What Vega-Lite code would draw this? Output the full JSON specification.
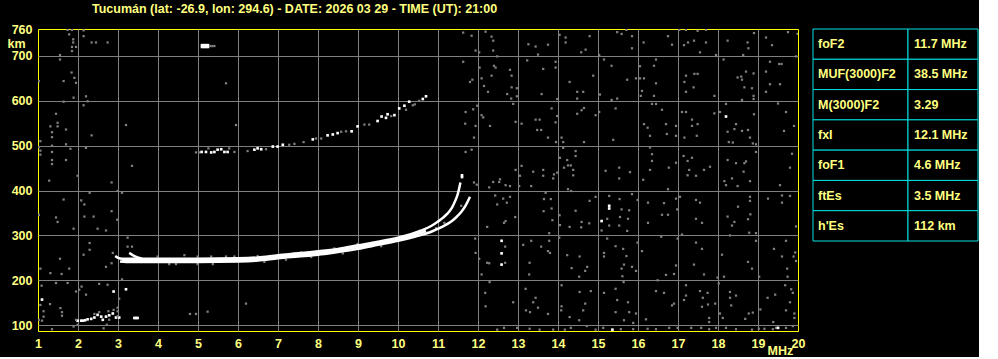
{
  "$schema": "https://vega.github.io/schema/vega-lite/v6.json",
  "background": "#000000",
  "padding": {"left": 6, "top": 2, "right": 0, "bottom": 0},
  "config": {"view": {"stroke": null}, "font": "Liberation Sans"},
  "bounds": "flush",
  "spacing": 15,
  "datasets": {
    "noise": [
      {"f":11.63,"h":752,"c":"g"},{"f":11.84,"h":745,"c":"g"},{"f":12.19,"h":754,"c":"g"},{"f":12.34,"h":743,"c":"g"},{"f":12.38,"h":734,"c":"g"},{"f":12.38,"h":712,"c":"g"},{"f":11.94,"h":712,"c":"g"},{"f":12.03,"h":708,"c":"g"},{"f":12.48,"h":699,"c":"g"},{"f":13.26,"h":726,"c":"g"},{"f":13.44,"h":721,"c":"g"},{"f":13.75,"h":725,"c":"g"},{"f":13.5,"h":703,"c":"g"},{"f":14.19,"h":741,"c":"g"},{"f":14.19,"h":730,"c":"g"},{"f":14.04,"h":747,"c":"g"},{"f":14.69,"h":714,"c":"g"},{"f":14.79,"h":744,"c":"g"},{"f":14.58,"h":708,"c":"g"},{"f":15.03,"h":702,"c":"g"},{"f":15.48,"h":753,"c":"g"},{"f":15.59,"h":749,"c":"g"},{"f":15.71,"h":758,"c":"g"},
      {"f":11.63,"h":687,"c":"g"},{"f":12.04,"h":674,"c":"g"},{"f":12.4,"h":678,"c":"g"},{"f":12.44,"h":674,"c":"g"},{"f":12.8,"h":669,"c":"g"},{"f":12.34,"h":656,"c":"g"},{"f":12.84,"h":656,"c":"g"},{"f":12.09,"h":650,"c":"g"},{"f":11.86,"h":647,"c":"g"},{"f":11.8,"h":642,"c":"g"},{"f":12.15,"h":633,"c":"g"},{"f":12.25,"h":620,"c":"g"},{"f":12.84,"h":630,"c":"g"},{"f":12.97,"h":628,"c":"g"},{"f":12.97,"h":610,"c":"g"},{"f":12.83,"h":605,"c":"g"},{"f":12.73,"h":615,"c":"g"},{"f":13.59,"h":615,"c":"g"},{"f":13.23,"h":690,"c":"g"},{"f":13.63,"h":671,"c":"g"},{"f":13.94,"h":687,"c":"g"},{"f":13.94,"h":674,"c":"g"},{"f":14.29,"h":642,"c":"g"},{"f":14.48,"h":620,"c":"g"},{"f":14.63,"h":620,"c":"g"},{"f":14.88,"h":656,"c":"g"},{"f":14.48,"h":605,"c":"g"},{"f":15.15,"h":692,"c":"g"},{"f":15.34,"h":678,"c":"g"},{"f":15.73,"h":647,"c":"g"},{"f":15.05,"h":614,"c":"g"},{"f":15.48,"h":605,"c":"g"},{"f":15.34,"h":602,"c":"g"},{"f":13.98,"h":604,"c":"g"},
      {"f":11.69,"h":575,"c":"g"},{"f":11.88,"h":581,"c":"g"},{"f":11.98,"h":589,"c":"g"},{"f":12.09,"h":568,"c":"g"},{"f":12.13,"h":563,"c":"g"},{"f":11.94,"h":544,"c":"g"},{"f":11.68,"h":549,"c":"g"},{"f":12.3,"h":544,"c":"g"},{"f":11.9,"h":518,"c":"g"},{"f":12.88,"h":593,"c":"g"},{"f":12.94,"h":553,"c":"g"},{"f":13.09,"h":549,"c":"g"},{"f":13.44,"h":558,"c":"g"},{"f":13.54,"h":558,"c":"g"},{"f":13.48,"h":535,"c":"g"},{"f":13.58,"h":535,"c":"g"},{"f":13.84,"h":583,"c":"g"},{"f":13.94,"h":552,"c":"g"},{"f":13.75,"h":518,"c":"g"},{"f":13.98,"h":566,"c":"g"},{"f":14.09,"h":518,"c":"g"},{"f":14.13,"h":508,"c":"g"},{"f":14.48,"h":571,"c":"g"},{"f":14.59,"h":579,"c":"g"},{"f":14.65,"h":584,"c":"g"},{"f":14.94,"h":568,"c":"g"},{"f":15.03,"h":575,"c":"g"},{"f":15.44,"h":583,"c":"g"},{"f":15.38,"h":513,"c":"g"},{"f":14.65,"h":508,"c":"g"},{"f":13.95,"h":508,"c":"g"},
      {"f":11.69,"h":486,"c":"g"},{"f":11.84,"h":491,"c":"g"},{"f":12.94,"h":446,"c":"g"},{"f":13.09,"h":455,"c":"g"},{"f":13.38,"h":442,"c":"g"},{"f":13.63,"h":446,"c":"g"},{"f":13.63,"h":433,"c":"g"},{"f":13.9,"h":436,"c":"g"},{"f":13.98,"h":440,"c":"g"},{"f":14.05,"h":473,"c":"g"},{"f":14.13,"h":495,"c":"g"},{"f":14.23,"h":468,"c":"g"},{"f":14.25,"h":456,"c":"g"},{"f":14.15,"h":451,"c":"g"},{"f":14.32,"h":456,"c":"g"},{"f":14.38,"h":446,"c":"g"},{"f":14.44,"h":488,"c":"g"},{"f":14.44,"h":477,"c":"g"},{"f":14.38,"h":434,"c":"g"},{"f":13.88,"h":427,"c":"g"},{"f":15.19,"h":444,"c":"g"},{"f":15.53,"h":451,"c":"g"},{"f":15.8,"h":441,"c":"g"},{"f":12.55,"h":425,"c":"g"},{"f":12.38,"h":419,"c":"g"},{"f":12.53,"h":419,"c":"g"},{"f":12.69,"h":412,"c":"g"},{"f":12.8,"h":410,"c":"g"},{"f":13.03,"h":410,"c":"g"},{"f":13.33,"h":410,"c":"g"},{"f":12.28,"h":407,"c":"g"},{"f":11.97,"h":413,"c":"g"},{"f":11.9,"h":418,"c":"g"},{"f":13.05,"h":433,"c":"g"},{"f":14.25,"h":403,"c":"g"},{"f":14.33,"h":399,"c":"g"},{"f":15.53,"h":427,"c":"g"},
      {"f":12.43,"h":389,"c":"g"},{"f":12.48,"h":369,"c":"g"},{"f":12.72,"h":373,"c":"g"},{"f":12.8,"h":386,"c":"g"},{"f":12.63,"h":382,"c":"g"},{"f":13.65,"h":381,"c":"g"},{"f":13.69,"h":395,"c":"g"},{"f":13.82,"h":381,"c":"g"},{"f":13.84,"h":360,"c":"g"},{"f":13.64,"h":354,"c":"g"},{"f":13.86,"h":334,"c":"g"},{"f":14.04,"h":345,"c":"g"},{"f":14.05,"h":323,"c":"g"},{"f":14.29,"h":319,"c":"g"},{"f":14.44,"h":355,"c":"g"},{"f":14.59,"h":330,"c":"g"},{"f":14.78,"h":327,"c":"g"},{"f":14.58,"h":318,"c":"g"},{"f":14.79,"h":377,"c":"g"},{"f":14.94,"h":386,"c":"g"},{"f":15.28,"h":388,"c":"g"},{"f":15.59,"h":358,"c":"g"},{"f":15.54,"h":381,"c":"g"},{"f":15.78,"h":356,"c":"g"},{"f":15.23,"h":337,"c":"g"},{"f":15.28,"h":322,"c":"g"},{"f":15.55,"h":341,"c":"g"},{"f":15.53,"h":322,"c":"g"},{"f":15.73,"h":310,"c":"g"},{"f":15.09,"h":311,"c":"g"},{"f":12.65,"h":328,"c":"g"},{"f":12.69,"h":332,"c":"g"},{"f":12.23,"h":319,"c":"g"},{"f":12.93,"h":341,"c":"g"},
      {"f":11.93,"h":293,"c":"g"},{"f":11.94,"h":261,"c":"g"},{"f":12.03,"h":248,"c":"g"},{"f":12.23,"h":239,"c":"g"},{"f":12.28,"h":238,"c":"g"},{"f":12.09,"h":213,"c":"g"},{"f":12.68,"h":275,"c":"g"},{"f":12.68,"h":239,"c":"g"},{"f":13.13,"h":279,"c":"g"},{"f":13.33,"h":288,"c":"g"},{"f":13.58,"h":275,"c":"g"},{"f":13.78,"h":305,"c":"g"},{"f":13.78,"h":288,"c":"g"},{"f":13.8,"h":261,"c":"g"},{"f":13.75,"h":265,"c":"g"},{"f":13.29,"h":239,"c":"g"},{"f":13.28,"h":213,"c":"g"},{"f":14.03,"h":295,"c":"g"},{"f":14.23,"h":256,"c":"g"},{"f":14.54,"h":253,"c":"g"},{"f":14.73,"h":230,"c":"g"},{"f":14.68,"h":221,"c":"g"},{"f":14.34,"h":227,"c":"g"},{"f":14.53,"h":208,"c":"g"},{"f":15.15,"h":261,"c":"g"},{"f":15.15,"h":253,"c":"g"},{"f":15.23,"h":293,"c":"g"},{"f":15.44,"h":276,"c":"g"},{"f":15.63,"h":270,"c":"g"},{"f":15.65,"h":235,"c":"g"},{"f":15.59,"h":226,"c":"g"},{"f":15.61,"h":209,"c":"g"},{"f":15.71,"h":254,"c":"g"},
      {"f":12.29,"h":196,"c":"g"},{"f":12.18,"h":172,"c":"g"},{"f":12.19,"h":142,"c":"g"},{"f":12.88,"h":151,"c":"g"},{"f":13.19,"h":181,"c":"g"},{"f":13.38,"h":151,"c":"g"},{"f":13.44,"h":161,"c":"g"},{"f":13.2,"h":133,"c":"g"},{"f":13.3,"h":129,"c":"g"},{"f":13.5,"h":139,"c":"g"},{"f":13.75,"h":125,"c":"g"},{"f":14.09,"h":189,"c":"g"},{"f":14.09,"h":142,"c":"g"},{"f":14.08,"h":133,"c":"g"},{"f":14.29,"h":118,"c":"g"},{"f":14.54,"h":174,"c":"g"},{"f":14.82,"h":176,"c":"g"},{"f":14.68,"h":148,"c":"g"},{"f":14.63,"h":133,"c":"g"},{"f":14.53,"h":111,"c":"g"},{"f":15.15,"h":172,"c":"g"},{"f":15.44,"h":181,"c":"g"},{"f":15.48,"h":156,"c":"g"},{"f":15.64,"h":196,"c":"g"},{"f":15.75,"h":151,"c":"g"},{"f":15.44,"h":129,"c":"g"},{"f":15.78,"h":129,"c":"g"},{"f":15.65,"h":111,"c":"g"},
      {"f":12.48,"h":90,"c":"g"},{"f":12.65,"h":94,"c":"g"},{"f":12.98,"h":94,"c":"g"},{"f":13.29,"h":92,"c":"g"},{"f":13.54,"h":90,"c":"g"},{"f":13.88,"h":90,"c":"g"},{"f":14.17,"h":90,"c":"g"},{"f":14.32,"h":94,"c":"g"},{"f":14.72,"h":98,"c":"g"},{"f":14.94,"h":90,"c":"g"},{"f":15.13,"h":94,"c":"g"},{"f":15.57,"h":91,"c":"g"},
      {"f":15.36,"h":90,"c":"w"},{"f":12.59,"h":288,"c":"w"},{"f":12.59,"h":260,"c":"w"},{"f":12.59,"h":235,"c":"w"},{"f":15.28,"h":366,"c":"w"},{"f":15.28,"h":360,"c":"w"},{"f":15.09,"h":332,"c":"w"},{"f":11.6,"h":430,"c":"w"},{"f":11.6,"h":434,"c":"w"},
      {"f":15.85,"h":744,"c":"g"},{"f":15.85,"h":717,"c":"g"},{"f":16.14,"h":730,"c":"g"},{"f":16.75,"h":744,"c":"g"},{"f":16.85,"h":725,"c":"g"},{"f":17.03,"h":758,"c":"g"},{"f":17.2,"h":758,"c":"g"},{"f":17.15,"h":724,"c":"g"},{"f":17.25,"h":730,"c":"g"},{"f":17.4,"h":734,"c":"g"},{"f":17.49,"h":756,"c":"g"},{"f":17.7,"h":758,"c":"g"},{"f":17.7,"h":730,"c":"g"},{"f":17.55,"h":708,"c":"g"},{"f":17.95,"h":702,"c":"g"},{"f":18.24,"h":734,"c":"g"},{"f":18.63,"h":702,"c":"g"},{"f":18.74,"h":730,"c":"g"},{"f":18.76,"h":717,"c":"g"},{"f":18.9,"h":751,"c":"g"},{"f":19.2,"h":741,"c":"g"},{"f":19.35,"h":724,"c":"g"},{"f":19.75,"h":753,"c":"g"},{"f":19.99,"h":749,"c":"g"},
      {"f":16.45,"h":692,"c":"g"},{"f":16.4,"h":678,"c":"g"},{"f":16.05,"h":677,"c":"g"},{"f":16.15,"h":650,"c":"g"},{"f":16.05,"h":650,"c":"g"},{"f":15.95,"h":650,"c":"g"},{"f":16.45,"h":639,"c":"g"},{"f":16.1,"h":622,"c":"g"},{"f":16.07,"h":611,"c":"g"},{"f":16.4,"h":611,"c":"g"},{"f":17.2,"h":656,"c":"g"},{"f":17.41,"h":660,"c":"g"},{"f":17.49,"h":660,"c":"g"},{"f":17.16,"h":642,"c":"g"},{"f":17.39,"h":630,"c":"g"},{"f":17.2,"h":620,"c":"g"},{"f":17.91,"h":611,"c":"g"},{"f":18.14,"h":692,"c":"g"},{"f":18.49,"h":652,"c":"g"},{"f":18.58,"h":654,"c":"g"},{"f":18.6,"h":647,"c":"g"},{"f":18.7,"h":665,"c":"g"},{"f":18.89,"h":661,"c":"g"},{"f":18.66,"h":630,"c":"g"},{"f":18.85,"h":628,"c":"g"},{"f":18.89,"h":611,"c":"g"},{"f":18.89,"h":604,"c":"g"},{"f":18.6,"h":602,"c":"g"},{"f":19.2,"h":665,"c":"g"},{"f":19.3,"h":687,"c":"g"},{"f":19.53,"h":682,"c":"g"},{"f":19.59,"h":682,"c":"g"},{"f":19.3,"h":637,"c":"g"},{"f":19.55,"h":637,"c":"g"},{"f":19.2,"h":620,"c":"g"},{"f":19.95,"h":699,"c":"g"},
      {"f":16.35,"h":593,"c":"g"},{"f":16.45,"h":593,"c":"g"},{"f":16.6,"h":580,"c":"g"},{"f":16.15,"h":548,"c":"g"},{"f":16.24,"h":540,"c":"g"},{"f":16.3,"h":522,"c":"g"},{"f":16.7,"h":548,"c":"g"},{"f":16.72,"h":526,"c":"g"},{"f":16.95,"h":544,"c":"g"},{"f":16.95,"h":522,"c":"g"},{"f":17.16,"h":518,"c":"g"},{"f":17.1,"h":575,"c":"g"},{"f":17.2,"h":575,"c":"g"},{"f":17.35,"h":558,"c":"g"},{"f":17.35,"h":544,"c":"g"},{"f":17.49,"h":548,"c":"g"},{"f":17.47,"h":522,"c":"g"},{"f":17.91,"h":572,"c":"g"},{"f":18.05,"h":575,"c":"g"},{"f":18.2,"h":593,"c":"g"},{"f":18.24,"h":531,"c":"g"},{"f":18.27,"h":508,"c":"g"},{"f":18.37,"h":507,"c":"g"},{"f":18.41,"h":537,"c":"g"},{"f":18.45,"h":548,"c":"g"},{"f":18.6,"h":533,"c":"g"},{"f":18.75,"h":535,"c":"g"},{"f":18.8,"h":518,"c":"g"},{"f":18.87,"h":505,"c":"g"},{"f":18.9,"h":570,"c":"g"},{"f":19.5,"h":594,"c":"g"},{"f":19.7,"h":575,"c":"g"},{"f":19.9,"h":544,"c":"g"},{"f":19.65,"h":533,"c":"g"},{"f":18.95,"h":503,"c":"g"},{"f":18.2,"h":565,"c":"w"},
      {"f":16.3,"h":496,"c":"g"},{"f":16.35,"h":481,"c":"g"},{"f":16.35,"h":466,"c":"g"},{"f":16.3,"h":446,"c":"g"},{"f":16.77,"h":451,"c":"g"},{"f":16.95,"h":462,"c":"g"},{"f":17.14,"h":477,"c":"g"},{"f":17.24,"h":466,"c":"g"},{"f":17.35,"h":473,"c":"g"},{"f":17.28,"h":446,"c":"g"},{"f":17.24,"h":434,"c":"g"},{"f":17.45,"h":433,"c":"g"},{"f":17.65,"h":446,"c":"g"},{"f":17.8,"h":453,"c":"g"},{"f":18.24,"h":468,"c":"g"},{"f":18.45,"h":461,"c":"g"},{"f":18.66,"h":461,"c":"g"},{"f":18.7,"h":465,"c":"g"},{"f":18.64,"h":442,"c":"g"},{"f":18.8,"h":421,"c":"g"},{"f":18.35,"h":427,"c":"g"},{"f":18.16,"h":421,"c":"g"},{"f":18.2,"h":412,"c":"g"},{"f":18.49,"h":410,"c":"g"},{"f":18.95,"h":486,"c":"g"},{"f":19.85,"h":482,"c":"g"},{"f":19.8,"h":451,"c":"g"},{"f":19.55,"h":412,"c":"g"},{"f":16.13,"h":424,"c":"g"},
      {"f":15.85,"h":392,"c":"g"},{"f":15.99,"h":379,"c":"g"},{"f":16.75,"h":403,"c":"g"},{"f":16.25,"h":373,"c":"g"},{"f":16.65,"h":372,"c":"g"},{"f":16.6,"h":346,"c":"g"},{"f":16.75,"h":346,"c":"g"},{"f":16.25,"h":328,"c":"g"},{"f":15.75,"h":337,"c":"g"},{"f":16.98,"h":358,"c":"g"},{"f":16.95,"h":382,"c":"g"},{"f":17.05,"h":386,"c":"g"},{"f":17.45,"h":379,"c":"g"},{"f":17.55,"h":373,"c":"g"},{"f":17.45,"h":337,"c":"g"},{"f":17.6,"h":328,"c":"g"},{"f":18.24,"h":342,"c":"g"},{"f":18.35,"h":322,"c":"g"},{"f":18.41,"h":330,"c":"g"},{"f":18.5,"h":364,"c":"g"},{"f":18.8,"h":386,"c":"g"},{"f":18.8,"h":377,"c":"g"},{"f":18.81,"h":347,"c":"g"},{"f":18.75,"h":336,"c":"g"},{"f":18.78,"h":306,"c":"g"},{"f":19.25,"h":382,"c":"g"},{"f":19.6,"h":389,"c":"g"},{"f":19.8,"h":388,"c":"g"},{"f":19.6,"h":373,"c":"g"},{"f":19.95,"h":320,"c":"g"},{"f":18.95,"h":305,"c":"g"},{"f":18.3,"h":300,"c":"g"},
      {"f":17.1,"h":302,"c":"g"},{"f":16.99,"h":293,"c":"g"},{"f":16.1,"h":265,"c":"g"},{"f":15.99,"h":284,"c":"g"},{"f":16.58,"h":297,"c":"g"},{"f":17.45,"h":284,"c":"g"},{"f":17.6,"h":270,"c":"g"},{"f":17.4,"h":235,"c":"g"},{"f":16.95,"h":233,"c":"g"},{"f":16.7,"h":212,"c":"g"},{"f":16.9,"h":214,"c":"g"},{"f":17.65,"h":213,"c":"g"},{"f":17.99,"h":206,"c":"g"},{"f":18.02,"h":193,"c":"g"},{"f":18.1,"h":257,"c":"g"},{"f":18.15,"h":208,"c":"g"},{"f":18.75,"h":241,"c":"g"},{"f":18.85,"h":226,"c":"g"},{"f":18.95,"h":288,"c":"g"},{"f":19.03,"h":208,"c":"g"},{"f":19.4,"h":270,"c":"g"},{"f":19.6,"h":253,"c":"g"},{"f":19.7,"h":288,"c":"g"},{"f":19.89,"h":253,"c":"g"},{"f":19.93,"h":262,"c":"g"},{"f":19.95,"h":243,"c":"g"},{"f":19.73,"h":226,"c":"g"},{"f":19.74,"h":208,"c":"g"},{"f":15.85,"h":230,"c":"g"},{"f":15.95,"h":221,"c":"g"},
      {"f":16.49,"h":200,"c":"g"},{"f":16.45,"h":176,"c":"g"},{"f":16.65,"h":172,"c":"g"},{"f":17.2,"h":189,"c":"g"},{"f":17.2,"h":166,"c":"g"},{"f":17.15,"h":156,"c":"g"},{"f":17.55,"h":176,"c":"g"},{"f":17.62,"h":161,"c":"g"},{"f":17.74,"h":172,"c":"g"},{"f":17.75,"h":146,"c":"g"},{"f":17.6,"h":141,"c":"g"},{"f":17.78,"h":116,"c":"g"},{"f":17.78,"h":107,"c":"g"},{"f":17.93,"h":148,"c":"g"},{"f":18.05,"h":126,"c":"g"},{"f":18.12,"h":116,"c":"g"},{"f":18.3,"h":174,"c":"g"},{"f":18.3,"h":161,"c":"g"},{"f":18.33,"h":144,"c":"g"},{"f":18.45,"h":166,"c":"g"},{"f":18.68,"h":114,"c":"g"},{"f":18.77,"h":126,"c":"g"},{"f":18.87,"h":128,"c":"g"},{"f":19.06,"h":135,"c":"g"},{"f":19.24,"h":161,"c":"g"},{"f":19.43,"h":168,"c":"g"},{"f":19.68,"h":189,"c":"g"},{"f":19.83,"h":180,"c":"g"},{"f":19.8,"h":151,"c":"g"},{"f":19.87,"h":172,"c":"g"},{"f":19.91,"h":126,"c":"g"},{"f":19.91,"h":116,"c":"g"},{"f":19.7,"h":133,"c":"g"},{"f":19.38,"h":107,"c":"g"},{"f":15.95,"h":126,"c":"g"},{"f":16.2,"h":113,"c":"g"},{"f":16.85,"h":144,"c":"g"},{"f":16.9,"h":148,"c":"g"},
      {"f":15.88,"h":105,"c":"g"},{"f":15.88,"h":91,"c":"g"},{"f":16.24,"h":92,"c":"g"},{"f":16.45,"h":91,"c":"g"},{"f":16.78,"h":94,"c":"g"},{"f":16.99,"h":94,"c":"g"},{"f":17.33,"h":94,"c":"g"},{"f":17.58,"h":94,"c":"g"},{"f":17.78,"h":91,"c":"g"},{"f":17.95,"h":94,"c":"g"},{"f":18.2,"h":94,"c":"g"},{"f":18.45,"h":91,"c":"g"},{"f":18.85,"h":90,"c":"g"},{"f":19.02,"h":92,"c":"g"},{"f":19.16,"h":92,"c":"g"},{"f":19.37,"h":91,"c":"g"},{"f":19.45,"h":94,"c":"g"},{"f":19.7,"h":94,"c":"g"},{"f":19.87,"h":98,"c":"g"},{"f":19.5,"h":94,"c":"w"},
      {"f":1.74,"h":758,"c":"g"},{"f":1.85,"h":758,"c":"g"},{"f":1.78,"h":748,"c":"g"},{"f":1.88,"h":737,"c":"g"},{"f":1.88,"h":730,"c":"g"},{"f":1.85,"h":720,"c":"g"},{"f":1.85,"h":711,"c":"g"},{"f":1.95,"h":720,"c":"g"},{"f":2.14,"h":757,"c":"g"},{"f":2.14,"h":744,"c":"g"},{"f":2.34,"h":730,"c":"g"},{"f":2.45,"h":730,"c":"g"},{"f":2.74,"h":730,"c":"g"},{"f":1.55,"h":702,"c":"g"},{"f":1.55,"h":692,"c":"g"},{"f":1.84,"h":663,"c":"g"},{"f":1.91,"h":651,"c":"g"},{"f":1.64,"h":644,"c":"g"},{"f":1.95,"h":640,"c":"g"},{"f":1.89,"h":607,"c":"g"},{"f":2.14,"h":590,"c":"g"},{"f":1.64,"h":598,"c":"g"},{"f":2.2,"h":610,"c":"g"},{"f":2.24,"h":599,"c":"g"},{"f":1.02,"h":644,"c":"g"},
      {"f":1.45,"h":571,"c":"g"},{"f":1.31,"h":543,"c":"g"},{"f":1.49,"h":551,"c":"g"},{"f":1.49,"h":543,"c":"g"},{"f":1.35,"h":530,"c":"g"},{"f":1.35,"h":519,"c":"g"},{"f":1.7,"h":536,"c":"g"},{"f":2.34,"h":523,"c":"g"},{"f":1.06,"h":510,"c":"g"},{"f":1.06,"h":489,"c":"g"},{"f":1.06,"h":480,"c":"g"},{"f":1.02,"h":497,"c":"g"},{"f":1.35,"h":500,"c":"g"},{"f":1.35,"h":486,"c":"g"},{"f":1.7,"h":503,"c":"g"},{"f":1.81,"h":493,"c":"g"},{"f":2.2,"h":495,"c":"g"},{"f":1.35,"h":468,"c":"g"},{"f":1.35,"h":459,"c":"g"},{"f":1.7,"h":468,"c":"g"},{"f":1.28,"h":422,"c":"g"},{"f":2.84,"h":418,"c":"g"},{"f":1.99,"h":433,"c":"g"},
      {"f":2.29,"h":395,"c":"g"},{"f":2.08,"h":378,"c":"g"},{"f":2.16,"h":369,"c":"g"},{"f":1.64,"h":380,"c":"g"},{"f":1.45,"h":340,"c":"g"},{"f":1.49,"h":330,"c":"g"},{"f":1.89,"h":315,"c":"g"},{"f":2.16,"h":342,"c":"g"},{"f":2.39,"h":342,"c":"g"},{"f":2.49,"h":315,"c":"g"},{"f":2.7,"h":311,"c":"g"},{"f":2.84,"h":354,"c":"g"},{"f":2.98,"h":335,"c":"g"},{"f":1.02,"h":346,"c":"g"},
      {"f":2.29,"h":283,"c":"g"},{"f":2.29,"h":268,"c":"g"},{"f":2.14,"h":257,"c":"g"},{"f":1.55,"h":248,"c":"g"},{"f":1.78,"h":226,"c":"g"},{"f":1.59,"h":214,"c":"g"},{"f":1.31,"h":216,"c":"g"},{"f":1.06,"h":226,"c":"g"},{"f":2.84,"h":238,"c":"g"},{"f":2.7,"h":230,"c":"g"},{"f":2.87,"h":261,"c":"g"},{"f":2.74,"h":190,"c":"g"},{"f":2.53,"h":192,"c":"g"},{"f":2.09,"h":186,"c":"g"},{"f":2.2,"h":168,"c":"g"},{"f":1.95,"h":175,"c":"g"},{"f":2.03,"h":179,"c":"g"},{"f":1.09,"h":188,"c":"g"},{"f":1.45,"h":194,"c":"g"},{"f":1.74,"h":194,"c":"g"},
      {"f":2.89,"h":175,"c":"w"},{"f":1.1,"h":157,"c":"w"},{"f":1.06,"h":145,"c":"g"},{"f":1.3,"h":147,"c":"g"},{"f":1.56,"h":138,"c":"g"},{"f":1.6,"h":129,"c":"g"},{"f":1.6,"h":121,"c":"g"},{"f":1.14,"h":131,"c":"g"},{"f":1.02,"h":112,"c":"g"},{"f":1.1,"h":110,"c":"g"},{"f":1.14,"h":119,"c":"g"},{"f":1.35,"h":91,"c":"g"},{"f":1.89,"h":97,"c":"g"},{"f":1.99,"h":101,"c":"g"},{"f":2.64,"h":93,"c":"g"},{"f":2.72,"h":101,"c":"g"},{"f":2.78,"h":112,"c":"g"},{"f":2.99,"h":131,"c":"g"},
      {"f":1.99,"h":110,"c":"w"},{"f":2.08,"h":110,"c":"w"},{"f":2.18,"h":111,"c":"w"},{"f":2.24,"h":113,"c":"w"},{"f":2.33,"h":114,"c":"w"},{"f":2.41,"h":117,"c":"w"},{"f":2.49,"h":123,"c":"w"},{"f":2.58,"h":119,"c":"w"},{"f":2.62,"h":112,"c":"w"},{"f":2.7,"h":119,"c":"w"},{"f":2.78,"h":122,"c":"w"},{"f":2.87,"h":126,"c":"w"},{"f":2.95,"h":117,"c":"w"},{"f":3.03,"h":117,"c":"w"},{"f":3.41,"h":116,"c":"w"},{"f":3.49,"h":116,"c":"w"},{"f":3.45,"h":116,"c":"w"},{"f":2.12,"h":110,"c":"w"},
      {"f":1.95,"h":112,"c":"g"},{"f":2.41,"h":125,"c":"g"},{"f":2.53,"h":129,"c":"g"},{"f":2.76,"h":131,"c":"g"},{"f":2.89,"h":134,"c":"g"},
      {"f":5.7,"h":639,"c":"g"},{"f":3.2,"h":546,"c":"g"},{"f":5.95,"h":546,"c":"g"},{"f":3.35,"h":455,"c":"g"},{"f":2.99,"h":399,"c":"g"},{"f":3.1,"h":395,"c":"g"},{"f":3.24,"h":295,"c":"g"},{"f":3.24,"h":275,"c":"g"},{"f":3.35,"h":275,"c":"g"},{"f":3.1,"h":202,"c":"g"},{"f":2.99,"h":139,"c":"g"},{"f":3.03,"h":159,"c":"g"},{"f":2.99,"h":120,"c":"g"},{"f":6.2,"h":148,"c":"g"},{"f":4.8,"h":125,"c":"g"},{"f":4.95,"h":125,"c":"g"},{"f":5.24,"h":130,"c":"g"},{"f":3.2,"h":180,"c":"w"},
      {"f":5.1,"h":720,"c":"w"},{"f":5.15,"h":720,"c":"w"},{"f":5.2,"h":720,"c":"w"},{"f":5.25,"h":720,"c":"w"},{"f":5.1,"h":724,"c":"w"},{"f":5.15,"h":724,"c":"w"},{"f":5.2,"h":724,"c":"w"},{"f":5.25,"h":724,"c":"w"},{"f":5.31,"h":722,"c":"g"},{"f":5.36,"h":722,"c":"g"},{"f":5.41,"h":722,"c":"g"},
      {"f":4.95,"h":485,"c":"g"},{"f":5.03,"h":485,"c":"g"},{"f":5.09,"h":486,"c":"w"},{"f":5.2,"h":486,"c":"w"},{"f":5.26,"h":494,"c":"g"},{"f":5.33,"h":485,"c":"w"},{"f":5.41,"h":486,"c":"w"},{"f":5.49,"h":491,"c":"w"},{"f":5.58,"h":492,"c":"w"},{"f":5.66,"h":486,"c":"w"},{"f":5.74,"h":486,"c":"w"},{"f":5.78,"h":494,"c":"g"},{"f":5.91,"h":486,"c":"g"},{"f":6.24,"h":488,"c":"g"},{"f":6.41,"h":491,"c":"w"},{"f":6.49,"h":494,"c":"w"},{"f":6.58,"h":492,"c":"w"},{"f":6.7,"h":492,"c":"g"},{"f":6.87,"h":498,"c":"w"},{"f":6.99,"h":498,"c":"w"},{"f":7.12,"h":502,"c":"w"},{"f":7.28,"h":502,"c":"g"},{"f":7.41,"h":504,"c":"g"},{"f":7.64,"h":508,"c":"g"},{"f":7.87,"h":514,"c":"w"},{"f":7.95,"h":516,"c":"g"},{"f":8.08,"h":516,"c":"g"},{"f":8.24,"h":523,"c":"w"},{"f":8.37,"h":525,"c":"w"},{"f":8.49,"h":528,"c":"w"},{"f":8.58,"h":531,"c":"g"},{"f":8.7,"h":532,"c":"g"},{"f":8.84,"h":532,"c":"w"},{"f":8.99,"h":543,"c":"w"},{"f":9.16,"h":547,"c":"g"},{"f":9.28,"h":547,"c":"g"},{"f":9.49,"h":555,"c":"w"},{"f":9.59,"h":565,"c":"w"},{"f":9.7,"h":562,"c":"w"},{"f":9.74,"h":570,"c":"w"},{"f":9.83,"h":566,"c":"g"},{"f":9.91,"h":568,"c":"w"},{"f":10.03,"h":583,"c":"w"},{"f":10.16,"h":589,"c":"w"},{"f":10.2,"h":580,"c":"g"},{"f":10.28,"h":598,"c":"w"},{"f":10.37,"h":590,"c":"g"},{"f":10.42,"h":592,"c":"g"},{"f":10.53,"h":600,"c":"g"},{"f":10.62,"h":604,"c":"w"},{"f":10.7,"h":610,"c":"w"},
      {"f":3.99,"h":253,"c":"g"},{"f":4.66,"h":256,"c":"g"},{"f":4.99,"h":253,"c":"g"},{"f":5.33,"h":253,"c":"g"},{"f":5.7,"h":253,"c":"g"},{"f":5.91,"h":253,"c":"g"},{"f":6.49,"h":254,"c":"g"},{"f":4.28,"h":236,"c":"g"},{"f":4.45,"h":236,"c":"g"},{"f":4.99,"h":236,"c":"g"},{"f":5.37,"h":236,"c":"g"},{"f":6.66,"h":241,"c":"g"},{"f":7.2,"h":246,"c":"g"},{"f":7.58,"h":262,"c":"g"},{"f":7.83,"h":252,"c":"g"},{"f":8.41,"h":271,"c":"g"},{"f":8.62,"h":260,"c":"g"},{"f":8.99,"h":281,"c":"g"},{"f":9.58,"h":276,"c":"g"},{"f":10.08,"h":293,"c":"g"},{"f":10.45,"h":301,"c":"g"},{"f":10.95,"h":316,"c":"g"},{"f":11.16,"h":328,"c":"g"},{"f":11.58,"h":366,"c":"g"}
    ],
    "traces": [
      {"f":2.93,"h":254,"trace":"o"},{"f":3.0,"h":250,"trace":"o"},{"f":3.1,"h":248,"trace":"o"},{"f":3.5,"h":248,"trace":"o"},{"f":4.0,"h":248,"trace":"o"},{"f":5.0,"h":248,"trace":"o"},{"f":6.0,"h":249,"trace":"o"},{"f":6.5,"h":251,"trace":"o"},{"f":7.0,"h":256,"trace":"o"},{"f":7.5,"h":260,"trace":"o"},{"f":8.0,"h":264.5,"trace":"o"},{"f":8.5,"h":270,"trace":"o"},{"f":9.0,"h":278,"trace":"o"},{"f":9.5,"h":286,"trace":"o"},{"f":10.0,"h":295,"trace":"o"},{"f":10.3,"h":302,"trace":"o"},{"f":10.58,"h":311,"trace":"o"},{"f":10.83,"h":321,"trace":"o"},{"f":11.0,"h":331,"trace":"o"},{"f":11.12,"h":339,"trace":"o"},{"f":11.24,"h":349,"trace":"o"},{"f":11.35,"h":362,"trace":"o"},{"f":11.43,"h":377,"trace":"o"},{"f":11.49,"h":391,"trace":"o"},{"f":11.53,"h":405,"trace":"o"},{"f":11.56,"h":418,"trace":"o"},
      {"f":3.05,"h":242,"trace":"x"},{"f":3.2,"h":241,"trace":"x"},{"f":4.0,"h":241,"trace":"x"},{"f":5.0,"h":241,"trace":"x"},{"f":6.0,"h":242,"trace":"x"},{"f":6.5,"h":244,"trace":"x"},{"f":7.0,"h":249,"trace":"x"},{"f":7.5,"h":253,"trace":"x"},{"f":8.0,"h":257,"trace":"x"},{"f":8.5,"h":263,"trace":"x"},{"f":9.0,"h":270,"trace":"x"},{"f":9.5,"h":279,"trace":"x"},{"f":10.0,"h":288,"trace":"x"},{"f":10.5,"h":299,"trace":"x"},{"f":10.8,"h":307,"trace":"x"},{"f":11.0,"h":315,"trace":"x"},{"f":11.16,"h":322,"trace":"x"},{"f":11.33,"h":331,"trace":"x"},{"f":11.45,"h":340,"trace":"x"},{"f":11.58,"h":352,"trace":"x"},{"f":11.7,"h":368,"trace":"x"},{"f":11.8,"h":386,"trace":"x"},
      {"f":3.1,"h":244.5,"trace":"m"},{"f":4.0,"h":244.5,"trace":"m"},{"f":5.0,"h":244.5,"trace":"m"},{"f":6.0,"h":245.5,"trace":"m"},{"f":6.5,"h":247.5,"trace":"m"},{"f":7.0,"h":252.5,"trace":"m"},{"f":7.5,"h":256.5,"trace":"m"},{"f":8.0,"h":260.8,"trace":"m"},{"f":8.5,"h":266.5,"trace":"m"},{"f":9.0,"h":274,"trace":"m"},{"f":9.5,"h":282.5,"trace":"m"},{"f":10.0,"h":291.5,"trace":"m"},{"f":10.5,"h":303.5,"trace":"m"},{"f":10.7,"h":310,"trace":"m"},
      {"f":3.28,"h":261,"trace":"hook"},{"f":3.41,"h":254,"trace":"hook"},{"f":3.6,"h":248,"trace":"hook"}
    ],
    "table": [
      {"row":1,"param":"foF2","value":"11.7 MHz"},
      {"row":2,"param":"MUF(3000)F2","value":"38.5 MHz"},
      {"row":3,"param":"M(3000)F2","value":"3.29"},
      {"row":4,"param":"fxI","value":"12.1 MHz"},
      {"row":5,"param":"foF1","value":"4.6 MHz"},
      {"row":6,"param":"ftEs","value":"3.5 MHz"},
      {"row":7,"param":"h'Es","value":"112 km"}
    ]
  },
  "hconcat": [
    {
      "width": 760,
      "height": 302,
      "view": {"stroke": "#ffff00", "strokeWidth": 1, "fill": "#000000"},
      "title": {"text": "Tucumán (lat: -26.9, lon: 294.6) - DATE: 2026 03 29 - TIME (UT): 21:00", "anchor": "start", "frame": "group", "dx": 54, "offset": 8, "color": "#ffff80", "font": "Liberation Sans", "fontSize": 12.5, "fontWeight": "bold"},
      "encoding": {
        "x": {"field": "f", "type": "quantitative", "scale": {"domain": [1, 20], "nice": false, "zero": false},
          "axis": {"values": [1,2,3,4,5,6,7,8,9,10,11,12,13,14,15,16,17,18,19,20], "format": "d", "grid": true, "gridColor": "#808080", "gridWidth": 1,
            "gridOpacity": {"condition": {"test": "datum.value === 1 || datum.value === 20", "value": 0}, "value": 1},
            "domain": false, "ticks": false, "labelColor": "#ffff80", "labelFont": "Liberation Sans", "labelFontSize": 12.5, "labelFontWeight": "bold", "labelPadding": 6, "labelFlush": false, "labelOverlap": false, "labelBound": false,
            "title": "MHz", "titleX": 729, "titleY": 23, "titleAlign": "left", "titleBaseline": "alphabetic", "titleColor": "#ffff80", "titleFont": "Liberation Sans", "titleFontSize": 12.5, "titleFontWeight": "bold"}},
        "y": {"field": "h", "type": "quantitative", "scale": {"domain": [87, 760], "nice": false, "zero": false},
          "axis": {"values": [100,200,300,400,500,600,700,760], "format": "d", "grid": true, "gridColor": "#808080", "gridWidth": 1,
            "gridOpacity": {"condition": {"test": "datum.value === 760", "value": 0}, "value": 1},
            "domain": false, "ticks": false, "labelColor": "#ffff80", "labelFont": "Liberation Sans", "labelFontSize": 12.5, "labelFontWeight": "bold", "labelPadding": 6, "labelFlush": false, "labelOverlap": false, "labelBound": false,
            "title": "km", "titleAngle": 0, "titleX": -31, "titleY": 18, "titleAlign": "left", "titleBaseline": "alphabetic", "titleColor": "#ffff80", "titleFont": "Liberation Sans", "titleFontSize": 12.5, "titleFontWeight": "bold"}}
      },
      "layer": [
        {"data": {"name": "noise"},
         "mark": {"type": "square", "clip": true, "opacity": 1},
         "encoding": {
           "color": {"field": "c", "type": "nominal", "scale": {"domain": ["g", "w"], "range": ["#808080", "#ffffff"]}, "legend": null},
           "size": {"field": "c", "type": "nominal", "scale": {"domain": ["g", "w"], "range": [5, 7]}, "legend": null}
         }},
        {"data": {"name": "traces"},
         "mark": {"type": "line", "color": "#ffffff", "strokeWidth": 2.5, "clip": true, "interpolate": "monotone"},
         "encoding": {"detail": {"field": "trace", "type": "nominal"}}}
      ]
    },
    {
      "bounds": "flush",
      "spacing": 0,
      "hconcat": [
        {
          "width": 95, "height": 212,
          "data": {"name": "table"},
          "encoding": {"y": {"field": "row", "type": "ordinal", "scale": {"type": "band", "paddingInner": 0, "paddingOuter": 0}, "axis": null}},
          "layer": [
            {"mark": {"type": "rect", "fill": "#000000", "stroke": "#00e0e0", "strokeWidth": 1}},
            {"mark": {"type": "text", "align": "left", "baseline": "middle", "dx": 5, "font": "Liberation Sans", "fontSize": 12.5, "fontWeight": "bold", "color": "#ffff80"},
             "encoding": {"text": {"field": "param"}, "x": {"datum": "c", "type": "nominal", "scale": {"type": "band", "paddingInner": 0, "paddingOuter": 0}, "axis": null, "bandPosition": 0}}}
          ]
        },
        {
          "width": 70, "height": 212,
          "data": {"name": "table"},
          "encoding": {"y": {"field": "row", "type": "ordinal", "scale": {"type": "band", "paddingInner": 0, "paddingOuter": 0}, "axis": null}},
          "layer": [
            {"mark": {"type": "rect", "fill": "#000000", "stroke": "#00e0e0", "strokeWidth": 1}},
            {"mark": {"type": "text", "align": "left", "baseline": "middle", "dx": 6, "font": "Liberation Sans", "fontSize": 12.5, "fontWeight": "bold", "color": "#ffff80"},
             "encoding": {"text": {"field": "value"}, "x": {"datum": "c", "type": "nominal", "scale": {"type": "band", "paddingInner": 0, "paddingOuter": 0}, "axis": null, "bandPosition": 0}}}
          ]
        }
      ]
    }
  ]
}
